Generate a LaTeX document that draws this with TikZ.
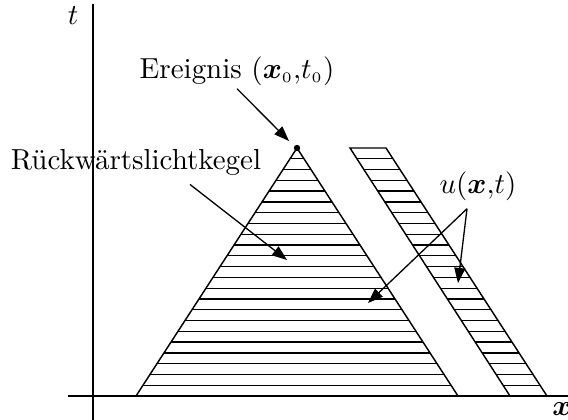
\documentclass[tikz,border=0pt]{standalone}
\usepackage{amsmath,amssymb}
\usepackage{tikz}
\usetikzlibrary{arrows.meta,calc}
\newcommand{\xvec}{\boldsymbol{x}}
\tikzset{
  achse/.style  ={draw=black, line width=0.45pt},
  rand/.style   ={draw=black, line width=0.5pt, line join=miter},
  schraff/.style={draw=black, line width=0.45pt},
  pfeil/.style  ={-{Triangle[length=5.2pt,width=3.8pt]}, draw=black, line width=0.45pt},
  lbl/.style    ={inner sep=1pt, anchor=base},
}

\begin{document}
\begin{tikzpicture}[x=0.345pt,y=-0.345pt]
\useasboundingbox (0,0) rectangle (568,420);
% Achsen
\draw[achse] (93,4) -- (93,420);
\draw[achse] (68,396) -- (568,396);
\node[lbl] (tlab) at (73,24) {$t$};
\node[lbl] (xlab) at (562,415) {$\xvec$};

% Rueckwaertslichtkegel
\coordinate (spitze) at (297,148);
\coordinate (kl) at (136,396);
\coordinate (kr) at (458,396);
\begin{scope}
  \clip (spitze) -- (kl) -- (kr) -- cycle;
  \foreach \k in {1,...,22}
    \draw[schraff] (0,{396-\k*248/23}) -- (568,{396-\k*248/23});
\end{scope}
\draw[rand] (kl) -- (spitze) -- (kr);
\fill (spitze) circle (3.2);

% Streifen u(x,t)
\coordinate (sa) at (350,148);
\coordinate (sb) at (386,148);
\coordinate (sc) at (547,396);
\coordinate (sd) at (510,396);
\begin{scope}
  \clip (sa) -- (sb) -- (sc) -- (sd) -- cycle;
  \foreach \k in {1,...,22}
    \draw[schraff] (0,{396-\k*248/23}) -- (568,{396-\k*248/23});
\end{scope}
\draw[rand] (sd) -- (sa) -- (sb) -- (sc);

% Beschriftungen
\node[lbl] (ereignis) at (237,78) {Ereignis $(\xvec_{\scriptscriptstyle 0}{,}t_{\scriptscriptstyle 0})$};
\node[lbl] (rkegel) at (136,169) {Rückwärtslichtkegel};
\node[lbl] (ulab) at (478,193) {$u(\xvec{,}t)$};

\coordinate (zielE) at (289,141);
\coordinate (zielK) at (287,260);
\coordinate (zielS) at (458,283);
\coordinate (zielK2) at (368,303);
\coordinate (kfuss) at ($(rkegel.south)+(54,6)$);
\coordinate (ufuss) at ($(ulab.south)+(-11,5)$);

\draw[pfeil] (ereignis.south) -- (zielE);
\draw[pfeil] (kfuss) -- (zielK);
\draw[pfeil] (ufuss) -- (zielS);
\draw[pfeil] (ufuss) -- (zielK2);
\end{tikzpicture}
\end{document}
